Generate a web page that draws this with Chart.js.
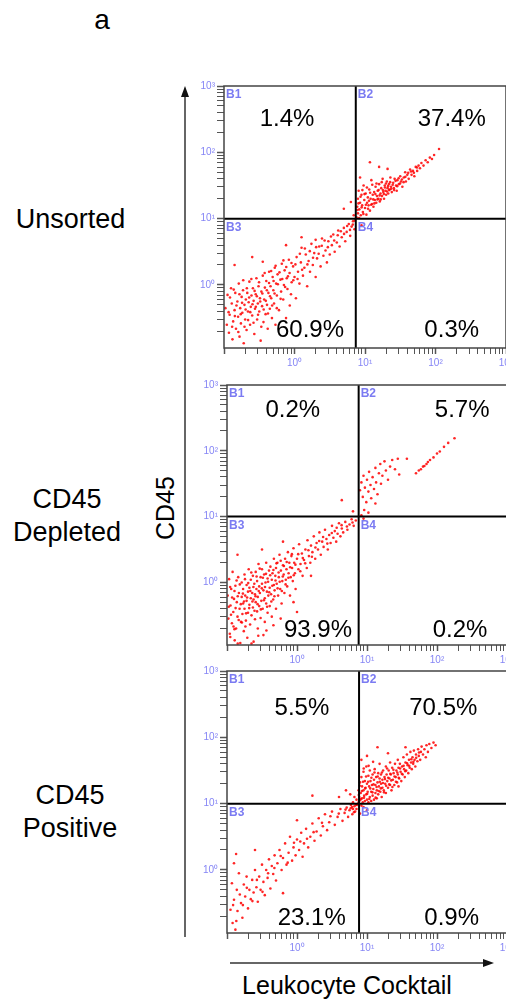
<!DOCTYPE html>
<html>
<head>
<meta charset="utf-8">
<script src="https://cdn.jsdelivr.net/npm/chart.js@4.4.0/dist/chart.umd.min.js"></script>
<style>
body{margin:0;width:506px;height:1002px;overflow:hidden;background:#fff;position:relative;font-family:"Liberation Sans",Arial,sans-serif}
canvas{position:absolute}
.lbl{position:absolute;color:#000;text-align:center;white-space:nowrap;line-height:1}
</style>
</head>
<body>
<div class="lbl" style="left:92px;top:6px;width:20px;font-size:28px">a</div>
<div class="lbl" style="left:0;top:206px;width:141px;font-size:27px">Unsorted</div>
<div class="lbl" style="left:0;top:483px;width:134px;font-size:27px;line-height:33px">CD45<br>Depleted</div>
<div class="lbl" style="left:0;top:779px;width:140px;font-size:27px;line-height:33px">CD45<br>Positive</div>
<div class="lbl" style="left:125px;top:495px;width:80px;height:26px;line-height:26px;font-size:25px;transform:rotate(-90deg)">CD45</div>
<div class="lbl" style="left:197px;top:973px;width:300px;font-size:25px">Leukocyte Cocktail</div>
<svg style="position:absolute;left:0;top:0" width="506" height="1002">
  <line x1="185" y1="937" x2="185" y2="94" stroke="#333" stroke-width="1.5"/>
  <polygon points="185,86 181,97 189,97" fill="#111"/>
  <line x1="230" y1="963" x2="485" y2="963" stroke="#333" stroke-width="1.5"/>
  <polygon points="494,963 483,959 483,967" fill="#111"/>
</svg>
<script>
// puntos, en exponentes (log10 x, log10 y)
var unsortedPts = [
[-0.98,-0.35],[-0.96,-0.6],[-0.95,-0.15],[-0.93,-0.72],[-0.92,-0.45],[-0.9,-0.05],[-0.89,-0.28],[-0.88,-0.82],[-0.87,-0.55],[-0.85,-0.38],
[-0.84,-0.12],[-0.83,-0.66],[-0.81,-0.25],[-0.8,-0.48],[-0.79,0.02],[-0.78,-0.78],[-0.77,-0.35],[-0.76,-0.58],[-0.75,-0.18],[-0.74,-0.42],
[-0.73,-0.08],[-0.72,-0.88],[-0.71,-0.3],[-0.7,-0.52],[-0.69,-0.22],[-0.68,-0.68],[-0.67,-0.12],[-0.66,-0.4],[-0.65,-0.26],[-0.64,0.05],
[-0.63,-0.6],[-0.62,-0.33],[-0.61,-0.16],[-0.6,-0.46],[-0.59,-0.05],[-0.58,-0.24],[-0.57,-0.74],[-0.56,-0.36],[-0.55,-0.14],[-0.54,0.1],
[-0.53,-0.52],[-0.52,-0.28],[-0.51,-0.02],[-0.5,-0.4],[-0.49,-0.2],[-0.48,-0.84],[-0.47,-0.1],[-0.46,-0.32],[-0.45,0.14],[-0.44,-0.56],
[-0.43,-0.22],[-0.42,-0.04],[-0.41,-0.44],[-0.4,0.06],[-0.39,-0.3],[-0.38,-0.66],[-0.37,-0.12],[-0.36,0.2],[-0.35,-0.36],[-0.34,-0.02],
[-0.33,-0.2],[-0.32,-0.5],[-0.31,0.12],[-0.3,-0.08],[-0.29,-0.28],[-0.28,0.26],[-0.27,-0.6],[-0.26,0.02],[-0.25,-0.16],[-0.24,0.16],
[-0.22,-0.38],[-0.2,0.08],[-0.19,-0.1],[-0.18,0.32],[-0.16,-0.22],[-0.15,0.0],[-0.14,0.22],[-0.12,-0.5],[-0.11,0.1],[-0.1,-0.06],
[-0.08,0.38],[-0.07,0.18],[-0.05,-0.14],[-0.04,0.04],[-0.02,0.28],[0.0,0.12],[0.02,-0.2],[0.03,0.42],[0.05,0.2],[0.07,0.02],
[0.09,0.34],[0.1,0.56],[0.12,0.14],[0.14,0.26],[0.16,0.46],[0.18,-0.02],[0.2,0.36],[0.22,0.2],[0.24,0.62],[0.26,0.3],
[0.28,0.48],[0.3,0.12],[0.32,0.4],[0.35,0.58],[0.37,0.28],[0.39,0.7],[0.41,0.44],[0.44,0.52],[0.46,0.34],[0.48,0.66],
[0.5,0.46],[0.53,0.6],[0.55,0.76],[0.57,0.5],[0.6,0.64],[0.62,0.82],[0.64,0.58],[0.67,0.72],[0.7,0.86],[0.72,0.66],
[0.74,0.8],[0.77,0.92],[0.79,0.74],[0.81,0.88],[0.83,0.96],[0.85,0.84],
[-0.12,0.6],[-0.6,0.42],[-0.85,0.3],[0.1,0.72],[-0.45,0.35],[0.3,0.68],
[-0.935,-0.41],[-0.915,-0.19],[-0.885,-0.63],[-0.862,-0.07],[-0.846,-0.47],[-0.823,-0.31],[-0.797,-0.71],[-0.781,-0.14],[-0.763,-0.44],[-0.744,-0.27],
[-0.727,0.07],[-0.709,-0.63],[-0.693,-0.37],[-0.676,-0.05],[-0.658,-0.53],[-0.643,-0.19],[-0.627,-0.41],[-0.612,0.09],[-0.596,-0.29],[-0.581,-0.57],
[-0.566,-0.09],[-0.549,-0.33],[-0.534,-0.17],[-0.517,-0.45],[-0.503,0.04],[-0.486,-0.25],[-0.471,-0.63],[-0.456,-0.13],[-0.437,-0.37],[-0.423,0.18],
[-0.407,-0.24],[-0.392,-0.08],[-0.376,-0.43],[-0.361,0.03],[-0.347,-0.17],[-0.331,0.21],[-0.317,-0.31],[-0.297,0.06],[-0.283,-0.13],[-0.268,0.29],
[-0.251,-0.35],[-0.236,0.01],[-0.213,0.19],[-0.197,-0.21],[-0.173,0.09],[-0.157,0.37],[-0.133,-0.03],[-0.117,0.27],[-0.093,0.13],[-0.067,-0.31],
[-0.043,0.33],[-0.017,0.07],[0.013,0.31],[0.043,0.09],[0.076,0.47],[0.108,0.23],[0.147,0.55],[0.183,0.31],[0.217,0.51],[0.263,0.41],
[0.307,0.57],[0.343,0.47],[0.387,0.59],[0.427,0.67],[0.473,0.57],[0.517,0.73],[0.563,0.67],[0.613,0.75],[0.657,0.81],[0.703,0.77],
[0.747,0.89],[0.787,0.83],[0.827,0.91],[0.857,0.97],
[0.88,1.02],[0.89,1.18],[0.9,1.3],[0.9,1.08],[0.91,1.42],[0.92,1.14],[0.93,1.24],[0.94,1.05],[0.95,1.36],[0.96,1.2],
[0.97,1.1],[0.98,1.5],[0.99,1.28],[1.0,1.16],[1.01,1.38],[1.02,1.06],[1.03,1.24],[1.04,1.32],[1.05,1.2],[1.06,1.44],
[1.07,1.12],[1.08,1.3],[1.09,1.58],[1.1,1.22],[1.11,1.36],[1.12,1.18],[1.13,1.4],[1.14,1.28],[1.15,1.48],[1.16,1.24],
[1.17,1.34],[1.18,1.42],[1.19,1.3],[1.2,1.52],[1.21,1.26],[1.22,1.38],[1.23,1.46],[1.24,1.34],[1.25,1.6],[1.26,1.4],
[1.27,1.3],[1.28,1.5],[1.29,1.42],[1.3,1.36],[1.31,1.56],[1.32,1.46],[1.33,1.38],[1.34,1.52],[1.35,1.44],[1.36,1.62],
[1.37,1.48],[1.38,1.4],[1.4,1.54],[1.41,1.46],[1.42,1.6],[1.44,1.5],[1.45,1.42],[1.46,1.58],[1.48,1.52],[1.5,1.64],
[1.51,1.56],[1.53,1.48],[1.55,1.62],[1.57,1.7],[1.58,1.56],[1.6,1.66],[1.62,1.6],[1.64,1.74],[1.66,1.66],[1.68,1.72],
[1.7,1.64],[1.72,1.78],[1.74,1.72],[1.76,1.8],[1.78,1.76],[1.8,1.84],[1.83,1.8],[1.86,1.88],[1.89,1.85],[1.92,1.92],
[1.95,1.9],[1.98,1.96],[2.05,2.05],[1.07,1.85],[1.2,1.78],[0.93,1.62],[1.32,1.75],
[0.893,1.13],[0.907,1.23],[0.917,1.01],[0.937,1.33],[0.953,1.17],[0.963,1.43],[0.977,1.07],[0.993,1.37],[1.013,1.21],[1.027,1.47],
[1.043,1.15],[1.057,1.27],[1.073,1.39],[1.087,1.21],[1.103,1.51],[1.117,1.29],[1.133,1.23],[1.147,1.37],[1.163,1.53],[1.177,1.29],
[1.193,1.43],[1.207,1.35],[1.223,1.29],[1.237,1.55],[1.253,1.43],[1.267,1.37],[1.283,1.47],[1.297,1.53],[1.313,1.41],[1.327,1.49],
[1.343,1.43],[1.357,1.55],[1.373,1.45],[1.393,1.51],[1.413,1.43],[1.433,1.57],[1.457,1.49],[1.477,1.61],[1.497,1.53],[1.523,1.59],
[1.547,1.55],[1.573,1.63],[1.613,1.69],[1.653,1.71],[1.693,1.69],[1.737,1.77],
[0.7,1.15],[0.8,1.25],[0.84,1.05],[0.95,0.9]
];
var depletedPts = [
[-0.99,-0.2],[-0.98,-0.55],[-0.97,0.05],[-0.96,-0.78],[-0.95,-0.35],[-0.94,-0.1],[-0.93,-0.62],[-0.92,0.16],[-0.91,-0.45],[-0.9,-0.25],
[-0.89,-0.88],[-0.88,-0.05],[-0.87,-0.7],[-0.86,-0.3],[-0.85,-0.52],[-0.84,0.08],[-0.83,-0.16],[-0.82,-0.4],[-0.81,-0.92],[-0.8,-0.6],
[-0.79,-0.22],[-0.79,0.0],[-0.78,-0.48],[-0.77,-0.1],[-0.77,-0.32],[-0.76,-0.74],[-0.75,0.12],[-0.75,-0.4],[-0.74,-0.2],[-0.73,-0.58],
[-0.72,-0.04],[-0.72,-0.28],[-0.71,-0.84],[-0.7,-0.14],[-0.7,-0.46],[-0.69,0.2],[-0.68,-0.34],[-0.68,-0.08],[-0.67,-0.64],[-0.66,-0.24],
[-0.66,0.04],[-0.65,-0.5],[-0.64,-0.16],[-0.63,-0.38],[-0.63,0.1],[-0.62,-0.9],[-0.62,-0.26],[-0.61,-0.02],[-0.6,-0.56],[-0.6,-0.18],
[-0.59,-0.3],[-0.59,0.16],[-0.58,-0.1],[-0.57,-0.44],[-0.57,0.02],[-0.56,-0.7],[-0.56,-0.22],[-0.55,0.28],[-0.54,-0.36],[-0.54,-0.06],
[-0.53,-0.16],[-0.52,-0.54],[-0.52,0.08],[-0.51,-0.28],[-0.5,0.2],[-0.5,-0.02],[-0.49,-0.4],[-0.48,-0.12],[-0.48,-0.8],[-0.47,0.12],
[-0.46,-0.24],[-0.46,-0.6],[-0.45,0.0],[-0.44,-0.32],[-0.44,0.3],[-0.43,-0.14],[-0.42,-0.46],[-0.42,0.06],[-0.41,-0.2],[-0.4,0.18],
[-0.39,-0.08],[-0.39,-0.36],[-0.38,0.24],[-0.37,-0.18],[-0.36,0.04],[-0.36,-0.52],[-0.35,0.14],[-0.34,-0.26],[-0.33,-0.04],[-0.33,0.36],
[-0.32,-0.12],[-0.31,0.1],[-0.3,-0.4],[-0.3,0.22],[-0.29,-0.02],[-0.28,0.3],[-0.27,-0.2],[-0.26,0.08],[-0.25,0.42],[-0.24,-0.1],
[-0.23,0.18],[-0.22,-0.32],[-0.21,0.02],[-0.2,0.26],
[-0.19,0.12],[-0.18,-0.16],[-0.17,0.36],[-0.16,0.04],[-0.15,0.2],[-0.14,-0.06],[-0.13,0.46],[-0.12,0.14],[-0.11,0.3],[-0.1,-0.2],
[-0.09,0.08],[-0.08,0.4],[-0.07,0.22],[-0.06,0.02],[-0.05,0.52],[-0.04,0.3],[-0.03,0.14],[-0.02,-0.1],[0.0,0.36],[0.02,0.2],
[0.03,0.58],[0.05,0.28],[0.07,0.44],[0.08,0.1],[0.1,0.34],
[0.12,0.5],[0.14,0.22],[0.15,0.64],[0.17,0.4],[0.19,0.3],[0.2,0.56],[0.22,0.46],[0.24,0.7],[0.26,0.36],[0.28,0.6],
[0.3,0.5],[0.32,0.76],[0.34,0.42],[0.36,0.62],[0.38,0.54],[0.4,0.8],[0.42,0.66],[0.44,0.5],[0.46,0.72],[0.48,0.6],
[0.5,0.86],[0.52,0.68],[0.54,0.78],[0.56,0.62],[0.58,0.74],[0.6,0.9],[0.62,0.7],[0.64,0.82],[0.66,0.76],[0.69,0.92],
[0.72,0.8],[0.75,0.88],[0.78,0.96],[0.81,0.86],[0.84,0.94],
[-0.5,0.5],[-0.85,0.42],[-0.2,0.62],[0.0,-0.45],[-0.05,-0.3],[0.2,0.1],[-0.65,-0.93],
[-0.975,-0.37],[-0.955,-0.07],[-0.943,-0.49],[-0.927,-0.23],[-0.907,-0.67],[-0.893,-0.13],[-0.877,-0.39],[-0.863,0.03],[-0.847,-0.21],[-0.833,-0.57],
[-0.817,-0.03],[-0.803,-0.33],[-0.787,-0.61],[-0.773,-0.17],[-0.757,-0.29],[-0.743,0.05],[-0.727,-0.47],[-0.713,-0.23],[-0.697,-0.01],[-0.683,-0.39],
[-0.667,-0.13],[-0.653,0.15],[-0.637,-0.29],[-0.623,-0.07],[-0.607,-0.43],[-0.593,-0.21],[-0.577,0.09],[-0.563,-0.33],[-0.547,-0.13],[-0.533,0.21],
[-0.517,-0.41],[-0.503,-0.09],[-0.487,0.07],[-0.473,-0.27],[-0.457,-0.07],[-0.443,0.13],[-0.427,-0.37],[-0.413,0.01],[-0.397,-0.15],[-0.383,0.11],
[-0.367,-0.29],[-0.353,-0.05],[-0.337,0.19],[-0.323,-0.21],[-0.307,0.03],[-0.293,0.29],[-0.277,-0.09],[-0.263,0.15],[-0.247,0.01],[-0.233,0.33],
[-0.217,-0.13],[-0.203,0.09],[-0.187,0.25],[-0.163,-0.03],[-0.147,0.31],[-0.123,0.07],[-0.097,0.23],[-0.073,0.43],[-0.047,0.11],[-0.023,0.27],
[0.017,0.43],[0.047,0.17],[0.083,0.37],[0.117,0.29],[0.163,0.49],[0.213,0.39],[0.263,0.53],[0.317,0.63],[0.373,0.69],[0.433,0.59],
[0.497,0.75],[0.567,0.83],[0.637,0.87],[0.713,0.85],[0.793,0.91],
[-0.953,-0.83],[-0.893,-0.71],[-0.847,-0.93],[-0.737,-0.67],[-0.553,-0.81],[-0.437,-0.73],[-0.337,-0.65],[-0.233,-0.55],
[0.9,1.4],[0.92,1.52],[0.94,1.3],[0.95,1.62],[0.97,1.44],[0.99,1.22],[1.0,1.56],[1.02,1.38],[1.03,1.68],[1.05,1.48],
[1.06,1.28],[1.08,1.6],[1.1,1.42],[1.12,1.74],[1.13,1.52],[1.15,1.34],[1.17,1.66],[1.19,1.8],[1.2,1.5],[1.22,1.62],
[1.25,1.84],[1.27,1.7],[1.3,1.56],[1.33,1.76],[1.36,1.86],[1.4,1.72],[1.44,1.88],[1.46,1.64],[1.57,1.88],[1.12,1.2],
[0.96,1.1],[1.02,1.06],[0.92,1.02],
[1.7,1.66],[1.74,1.7],[1.77,1.72],[1.8,1.76],[1.82,1.77],[1.85,1.8],[1.87,1.83],[1.9,1.86],[1.95,1.9],[2.0,1.96],
[2.04,1.99],[2.1,2.06],[2.16,2.12],[2.25,2.19],
[0.64,1.25],[0.8,1.08],[0.95,0.97]
];
var positivePts = [
[0.88,1.02],[0.88,1.2],[0.89,1.1],[0.9,1.32],[0.9,1.05],[0.91,1.16],[0.92,1.4],[0.93,1.08],[0.93,1.26],[0.94,1.02],
[0.95,1.2],[0.95,1.48],[0.96,1.12],[0.97,1.34],[0.97,1.04],[0.98,1.24],[0.99,1.56],[0.99,1.14],[1.0,1.3],[1.0,1.06],
[1.01,1.18],[1.02,1.42],[1.02,1.02],[1.03,1.26],[1.04,1.1],[1.04,1.5],[1.05,1.34],[1.06,1.18],[1.06,1.04],[1.07,1.28],
[1.08,1.44],[1.08,1.12],[1.09,1.22],[1.1,1.36],[1.1,1.06],[1.11,1.52],[1.12,1.28],[1.12,1.16],[1.13,1.4],[1.14,1.2],
[1.14,1.08],[1.15,1.32],[1.16,1.46],[1.16,1.14],[1.17,1.26],[1.18,1.38],[1.18,1.6],[1.19,1.18],[1.2,1.3],[1.2,1.44],
[1.21,1.1],[1.22,1.36],[1.22,1.24],[1.23,1.5],[1.24,1.2],[1.25,1.4],[1.26,1.3],[1.27,1.56],[1.27,1.16],[1.28,1.44],
[1.29,1.34],[1.3,1.24],[1.31,1.5],[1.32,1.38],[1.33,1.62],[1.33,1.28],[1.34,1.44],[1.35,1.2],[1.36,1.54],[1.37,1.36],
[1.38,1.46],[1.39,1.28],[1.4,1.6],[1.41,1.4],[1.42,1.5],[1.43,1.32],[1.44,1.66],[1.44,1.44],[1.45,1.54],[1.45,1.26],
[1.46,1.38],[1.47,1.6],[1.48,1.48],[1.49,1.34],[1.5,1.56],[1.51,1.44],[1.52,1.7],[1.53,1.52],[1.54,1.4],[1.55,1.62],
[1.56,1.5],[1.57,1.74],[1.58,1.58],[1.59,1.46],[1.6,1.66],[1.61,1.54],[1.62,1.78],[1.63,1.62],[1.64,1.52],[1.65,1.7],
[1.66,1.6],[1.67,1.8],[1.68,1.66],[1.69,1.56],[1.7,1.74],
[1.72,1.64],[1.73,1.82],[1.74,1.72],[1.76,1.66],[1.77,1.78],[1.78,1.86],[1.8,1.74],[1.82,1.82],[1.84,1.7],[1.85,1.88],
[1.87,1.78],[1.89,1.9],[1.92,1.84],[1.95,1.92],[1.98,1.88],
[1.15,1.85],[0.92,1.66],[1.0,1.72],[1.3,1.76],[1.55,1.85],
[0.883,1.13],[0.897,1.27],[0.913,1.07],[0.927,1.19],[0.943,1.33],[0.957,1.09],[0.973,1.23],[0.987,1.41],[1.003,1.15],[1.017,1.33],
[1.033,1.07],[1.047,1.23],[1.063,1.39],[1.077,1.17],[1.093,1.29],[1.107,1.47],[1.123,1.09],[1.137,1.25],[1.153,1.41],[1.167,1.19],
[1.183,1.33],[1.197,1.23],[1.213,1.47],[1.227,1.31],[1.243,1.17],[1.257,1.37],[1.273,1.27],[1.287,1.53],[1.303,1.39],[1.317,1.29],
[1.333,1.45],[1.347,1.35],[1.363,1.25],[1.377,1.51],[1.393,1.41],[1.413,1.33],[1.433,1.47],[1.453,1.39],[1.473,1.53],[1.497,1.45],
[1.523,1.57],[1.547,1.49],[1.573,1.61],[1.603,1.57],[1.633,1.67],[1.663,1.63],[1.703,1.69],[1.743,1.77],
[1.023,1.57],[1.087,1.63],[0.953,1.53],
[0.86,0.98],[0.85,1.06],[0.82,1.1],[0.8,1.02],[0.76,1.14],[0.7,1.2],[0.6,1.1],[0.22,1.12],
[-0.95,-0.6],[-0.93,-0.2],[-0.92,-0.8],[-0.9,-0.45],[-0.88,-0.9],[-0.86,-0.3],[-0.85,-0.62],[-0.83,-0.05],[-0.8,-0.5],[-0.78,-0.72],
[-0.76,-0.22],[-0.74,-0.4],[-0.72,-0.1],[-0.7,-0.58],[-0.68,-0.3],[-0.66,-0.44],[-0.64,-0.15],[-0.62,-0.34],[-0.6,0.0],[-0.58,-0.26],
[-0.56,-0.48],[-0.54,-0.1],[-0.52,-0.3],[-0.5,0.08],[-0.48,-0.18],[-0.46,-0.38],[-0.44,0.0],[-0.42,-0.12],[-0.4,0.16],[-0.38,-0.28],
[-0.36,0.06],[-0.34,-0.06],[-0.32,0.22],[-0.3,-0.16],[-0.28,0.1],[-0.25,0.3],[-0.22,0.0],[-0.2,0.18],[-0.17,0.4],[-0.15,0.08],
[-0.12,0.26],[-0.1,0.5],[-0.07,0.14],[-0.05,0.34],[-0.02,0.22],[0.0,0.46],[0.03,0.3],[0.06,0.56],[0.08,0.2],[0.1,0.4],
[0.13,0.62],[0.16,0.34],[0.19,0.5],[0.22,0.7],[0.25,0.44],[0.28,0.58],[0.31,0.78],[0.34,0.52],[0.37,0.66],[0.4,0.84],
[0.43,0.6],[0.46,0.72],[0.5,0.88],[0.54,0.68],[0.58,0.8],[0.62,0.92],[0.65,0.74],[0.68,0.86],[0.71,0.94],[0.73,0.8],
[0.75,0.9],[0.77,0.98],[0.79,0.84],[0.8,0.92],[0.82,0.96],[0.83,0.88],[0.84,0.98],[0.85,0.92],
[-0.913,-0.53],[-0.867,-0.77],[-0.817,-0.37],[-0.773,-0.53],[-0.717,-0.27],[-0.637,-0.47],[-0.573,-0.15],[-0.493,-0.33],[-0.413,-0.05],[-0.323,0.03],
[-0.233,0.21],[-0.133,0.11],[-0.043,0.41],[0.047,0.43],[0.143,0.47],[0.237,0.57],[0.357,0.71],[0.477,0.81],[0.597,0.85],[0.693,0.91],
[0.787,0.95],[0.813,0.87],[0.767,0.93],
[-0.9,0.1],[-0.6,0.3],[-0.2,-0.35],[0.0,0.75],[-0.87,0.24],
[0.95,0.95],[1.0,0.9],[0.9,0.85],[0.92,0.97]
];

// porcentajes por cuadrante B1, B2, B3, B4
var unsortedPct = [1.4, 37.4, 60.9, 0.3];
var depletedPct = [0.2, 5.7, 93.9, 0.2];
var positivePct = [5.5, 70.5, 23.1, 0.9];

// limites de las puertas (x, y)
var gateX = [7.4, 7.6, 7.7];
var gateY = [10, 10, 10];

var ejeMin = 0.1, ejeMax = 1000, ejeYMin = 0.112;
var sup = {0:'\u2070', 1:'\u00B9', 2:'\u00B2', 3:'\u00B3'};

// posicion de los textos (exponentes) y de cada lienzo
var pctPos = [
  [[-0.106,2.49],[2.23,2.49],[0.22,-0.68],[2.23,-0.68]],
  [[-0.06,2.62],[2.36,2.62],[0.3,-0.73],[2.33,-0.73]],
  [[0.07,2.44],[2.09,2.44],[0.21,-0.73],[2.21,-0.73]]
];
var lienzos = [
  {left:188, top:76, w:330, h:296, padTop:10, padRight:12},
  {left:191, top:372, w:330, h:297, padTop:13, padRight:14},
  {left:191, top:662, w:330, h:295, padTop:9, padRight:14}
];

function esRedondo(v){
  var e = Math.floor(Math.log10(v) + 1e-9);
  var m = v / Math.pow(10, e);
  return Math.abs(m - Math.round(m)) < 1e-6;
}
function esDecada(v){
  var e = Math.log10(v);
  return Math.abs(e - Math.round(e)) < 1e-6;
}

function crearMarco(n){
  return {
    id: 'marco' + n,
    afterDatasetsDraw: function(chart){
      var a = chart.chartArea, c = chart.ctx, sx = chart.scales.x, sy = chart.scales.y;
      var pct = [unsortedPct, depletedPct, positivePct][n];
      c.save();
      c.strokeStyle = '#444'; c.lineWidth = 1.5;
      c.strokeRect(a.left, a.top, a.right - a.left, a.bottom - a.top);
      var gx = sx.getPixelForValue(gateX[n]), gy = sy.getPixelForValue(gateY[n]);
      c.fillStyle = '#7b7bf2';
      c.font = 'bold 12px "Liberation Sans", Arial, sans-serif';
      c.textAlign = 'left'; c.textBaseline = 'top';
      c.fillText('B1', a.left + 2, a.top + 3);
      c.fillText('B2', gx + 2, a.top + 3);
      c.fillText('B3', a.left + 2, gy + 3);
      c.fillText('B4', gx + 2, gy + 3);
      c.fillStyle = '#000';
      c.font = '24px "Liberation Sans", Arial, sans-serif';
      c.textAlign = 'center'; c.textBaseline = 'middle';
      for (var i = 0; i < 4; i++) {
        var px = sx.getPixelForValue(Math.pow(10, pctPos[n][i][0]));
        var py = sy.getPixelForValue(Math.pow(10, pctPos[n][i][1]));
        c.fillText(pct[i].toFixed(1) + '%', px, py);
      }
      c.restore();
    }
  };
}

function ejeLog(min, lado){
  return {
    type: 'logarithmic', min: min, max: ejeMax,
    afterBuildTicks: function(s){ s.ticks = s.ticks.filter(function(t){ return esRedondo(t.value); }); },
    afterFit: function(s){ if (lado == 'y') s.width = 36; else s.height = 24; },
    border: {display: false},
    grid: {
      drawOnChartArea: false, drawTicks: true, tickLength: lado == 'y' ? 7 : 6,
      tickColor: '#555',
      tickWidth: function(ctx){ return ctx.tick && esDecada(ctx.tick.value) ? 1.5 : 1; }
    },
    ticks: {
      autoSkip: false, maxRotation: 0, padding: lado == 'y' ? 2 : 3,
      color: '#8585f5', font: {size: 10, family: '"Liberation Sans", Arial, sans-serif'},
      callback: function(v){
        if (!esDecada(v)) return '';
        var e = Math.round(Math.log10(v));
        if (sup[e] === undefined) return '';
        return '10' + sup[e];
      }
    }
  };
}

function dibujarPanel(n, pts){
  var L = lienzos[n];
  var cv = document.createElement('canvas');
  cv.width = L.w; cv.height = L.h;
  cv.style.left = L.left + 'px'; cv.style.top = L.top + 'px';
  cv.style.width = L.w + 'px'; cv.style.height = L.h + 'px';
  cv.style.zIndex = n + 1;
  document.body.appendChild(cv);

  var puntos = pts.map(function(p){ return {x: Math.pow(10, p[0]), y: Math.pow(10, p[1])}; });
  new Chart(cv.getContext('2d'), {
    type: 'scatter',
    data: {
      datasets: [
        {type: 'line', data: [{x: gateX[n], y: ejeYMin}, {x: gateX[n], y: ejeMax}], borderColor: '#000', borderWidth: 2, pointRadius: 0, order: 0},
        {type: 'line', data: [{x: ejeMin, y: gateY[n]}, {x: ejeMax, y: gateY[n]}], borderColor: '#000', borderWidth: 2, pointRadius: 0, order: 0},
        {data: puntos, backgroundColor: 'rgba(255,0,0,0.85)', borderWidth: 0, pointRadius: 1.3, order: 1}
      ]
    },
    options: {
      responsive: false, animation: false, devicePixelRatio: 1,
      layout: {padding: {top: L.padTop, right: L.padRight, left: 0, bottom: 0}},
      plugins: {legend: {display: false}, tooltip: {enabled: false}},
      scales: {x: ejeLog(ejeMin, 'x'), y: ejeLog(ejeYMin, 'y')}
    },
    plugins: [crearMarco(n)]
  });
}

// ir dibujando los tres paneles
dibujarPanel(0, unsortedPts);
dibujarPanel(1, depletedPts);
dibujarPanel(2, positivePts);
</script>
</body>
</html>
